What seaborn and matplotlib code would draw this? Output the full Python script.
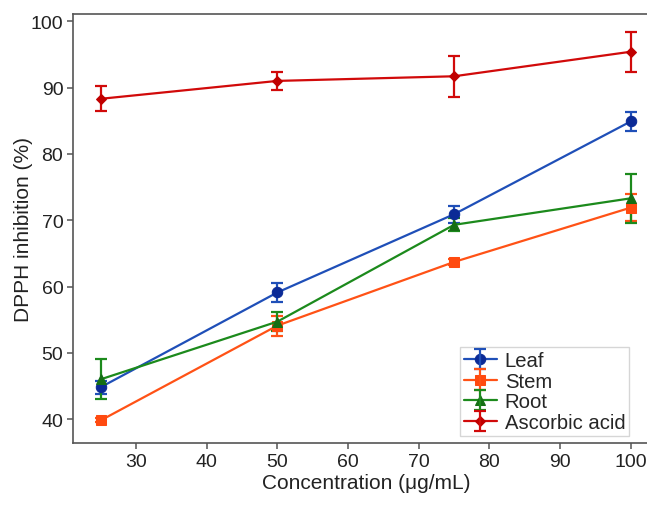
import numpy as np
import pandas as pd
import matplotlib
matplotlib.use('Agg')
import matplotlib.pyplot as plt
import seaborn as sns

concentration = [25, 50, 75, 100]
samples = ['Leaf', 'Stem', 'Root', 'Ascorbic acid']
leaf = [44.8, 59.1, 70.9, 84.9]
leaf_err = [1.0, 1.4, 1.3, 1.4]
stem = [39.8, 54.1, 63.7, 71.9]
stem_err = [0.3, 1.5, 0.4, 2.0]
root = [46.0, 54.7, 69.3, 73.3]
root_err = [3.0, 1.4, 1.0, 3.7]
ascorbic = [88.3, 91.0, 91.7, 95.4]
ascorbic_err = [1.9, 1.3, 3.1, 3.0]

colors = ['#1f4fb8', '#ff5216', '#1c8a1c', '#d10a0a']
marker_colors = ['#0b2a96', '#ff4a10', '#146e14', '#c00000']
markers = ['o', 's', '^', 'D']
sizes = [7.5, 7, 7.5, 5.5]

rows = []
for name, vals, errs in zip(samples, [leaf, stem, root, ascorbic],
                            [leaf_err, stem_err, root_err, ascorbic_err]):
    for c, v, e in zip(concentration, vals, errs):
        rows.append({'Concentration': c, 'Inhibition': v, 'err': e, 'Sample': name})
df = pd.DataFrame(rows)

sns.set_theme(style='ticks')
plt.rcParams['font.family'] = ['Liberation Sans', 'DejaVu Sans']

fig = plt.figure(figsize=(6.47, 5.06), dpi=100)
ax = fig.add_axes([0.1128, 0.1225, 0.906, 0.848])

handles = []
for i, name in enumerate(samples):
    sub = df[df['Sample'] == name]
    sns.lineplot(data=sub, x='Concentration', y='Inhibition', ax=ax, color=colors[i],
                 marker=markers[i], markersize=sizes[i], markerfacecolor=marker_colors[i],
                 markeredgecolor=marker_colors[i], linewidth=1.6, legend=False, zorder=3)
    line = ax.lines[-1]
    eb = ax.errorbar(sub['Concentration'], sub['Inhibition'], yerr=sub['err'], fmt='none',
                     ecolor=colors[i], elinewidth=1.6, capsize=4.5, capthick=1.6, zorder=2)
    handles.append((line, eb))

ax.set_xlim(21.1, 104)
ax.set_ylim(36.4, 101.1)
ax.set_xticks([30, 40, 50, 60, 70, 80, 90, 100])
ax.set_yticks([40, 50, 60, 70, 80, 90, 100])
ax.tick_params(labelsize=14, colors='#555555', labelcolor='#222222', length=4,
               width=1.1, direction='out', pad=3)
for s in ax.spines.values():
    s.set_color('#555555')
    s.set_linewidth(1.2)
ax.spines['right'].set_visible(False)

ax.set_xlabel('Concentration (μg/mL)', fontsize=15, color='#222222', labelpad=2)
ax.set_ylabel('DPPH inhibition (%)', fontsize=15, color='#222222', labelpad=-2)

ax.legend(handles, samples, loc='lower left', fontsize=14.6, frameon=True,
          fancybox=False, edgecolor='#cccccc', handlelength=1.6, handletextpad=0.4,
          labelspacing=0.08, borderpad=0.2, borderaxespad=0,
          bbox_to_anchor=(460 / 647, 1 - 437 / 506), bbox_transform=fig.transFigure)

fig.savefig('out.png', dpi=100)
